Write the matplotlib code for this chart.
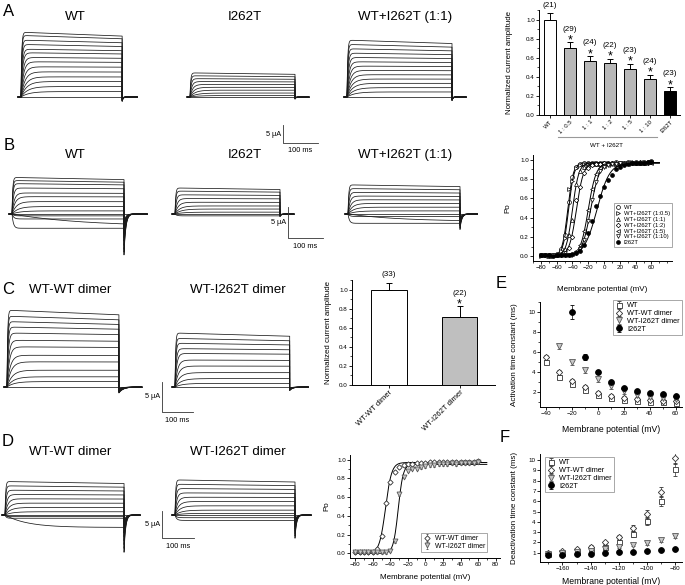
import numpy as np
import matplotlib
matplotlib.use("Agg")
import matplotlib.pyplot as plt
from matplotlib.ticker import MultipleLocator

plt.rcParams['font.family'] = ['Liberation Sans', 'DejaVu Sans']
plt.rcParams['axes.linewidth'] = 0.7
plt.rcParams['xtick.major.width'] = 0.6
plt.rcParams['ytick.major.width'] = 0.6
plt.rcParams['xtick.minor.width'] = 0.5
plt.rcParams['ytick.minor.width'] = 0.5
plt.rcParams['xtick.major.size'] = 2
plt.rcParams['ytick.major.size'] = 2
plt.rcParams['xtick.minor.size'] = 1.2
plt.rcParams['ytick.minor.size'] = 1.2
plt.rcParams['xtick.labelsize'] = 4.5
plt.rcParams['ytick.labelsize'] = 4.5
plt.rcParams['xtick.major.pad'] = 1
plt.rcParams['ytick.major.pad'] = 1

# ---------------- data ----------------
# A: normalized current amplitude, WT + I262T co-expression
ratio_labels = ['WT', '1 : 0.5', '1 : 1', '1 : 2', '1 : 5', '1 : 10', 'I262T']
ratio_amp = [1.0, 0.70, 0.565, 0.545, 0.485, 0.38, 0.25]
ratio_err = [0.07, 0.06, 0.05, 0.045, 0.05, 0.04, 0.04]
ratio_n = [21, 29, 24, 22, 23, 24, 23]
ratio_star = [False, True, True, True, True, True, True]
ratio_colors = ['white', '0.72', '0.72', '0.72', '0.72', '0.72', 'black']

# B: Po-V, points every 5 mV from -80 to 60
v_po = list(range(-80, 65, 5))
po_wt = [.01, .01, .01, .01, .02, .07, .22, .56, .82, .93, .96, .97, .97, .97, .97,
         .97, .97, .97, .97, .98, .97, .97, .98, .97, .98, .97, .98, .98, .99]
po_05 = [.00, .01, .01, .00, .01, .05, .19, .70, .78, .92, .95, .96, .96, .96, .97,
         .96, .97, .97, .96, .97, .97, .97, .97, .98, .97, .97, .98, .97, .98]
po_11 = [.01, .01, .00, .01, .01, .02, .07, .22, .38, .75, .88, .93, .95, .96, .96,
         .96, .97, .97, .97, .96, .97, .97, .97, .98, .97, .97, .97, .98, .98]
po_12 = [.01, .01, .01, .01, .01, .01, .03, .09, .20, .58, .72, .86, .92, .95, .96,
         .96, .97, .96, .97, .97, .97, .96, .97, .97, .97, .98, .97, .97, .98]
po_15 = [.01, .00, .01, .01, .01, .01, .01, .01, .02, .05, .12, .26, .48, .70, .85,
         .91, .94, .95, .96, .96, .97, .97, .96, .97, .97, .97, .97, .98, .97]
po_110 = [.01, .01, .00, .01, .01, .01, .01, .01, .01, .03, .07, .17, .36, .58, .77,
          .88, .93, .95, .96, .96, .97, .96, .97, .97, .97, .97, .97, .97, .98]
po_i262t = [.01, .01, .01, .00, .01, .01, .01, .01, .02, .03, .05, .12, .24, .36, .52,
            .62, .72, .79, .84, .90, .93, .95, .96, .97, .97, .97, .97, .98, .98]
# Boltzmann fits: (V1/2, slope)
fit_b = [(-46, 3.5), (-45, 3.5), (-40, 4.0), (-35, 4.5), (-20, 5.0), (-17, 5.5), (-9, 8.0)]
po_b_labels = ['WT', 'WT+I262T (1:0.5)', 'WT+I262T (1:1)', 'WT+I262T (1:2)',
               'WT+I262T (1:5)', 'WT+I262T (1:10)', 'I262T']

# C: dimers
dimer_labels = ['WT-WT dimer', 'WT-I262T dimer']
dimer_amp = [1.0, 0.72]
dimer_err = [0.07, 0.11]
dimer_n = [33, 22]

# D: dimer Po-V
po_ww = [.01, .01, .01, .01, .01, .05, .18, .54, .76, .87, .92, .94, .95, .95, .96,
         .96, .96, .97, .97, .97, .97, .97, .97, .98, .97, .98, .98, .98, .99]
po_wi = [.01, .01, .01, .01, .01, .01, .01, .01, .03, .13, .63, .82, .88, .90, .90,
         .92, .93, .94, .94, .95, .95, .95, .96, .95, .96, .96, .96, .96, .97]
fit_d = [(-45.5, 3.5, 0.97), (-31, 2.8, 0.95)]

# E: activation time constants (ms)
v_act = [-40, -30, -20, -10, 0, 10, 20, 30, 40, 50, 60]
act_wt = [5.0, 3.5, 2.8, 2.2, 1.7, 1.4, 1.2, 1.1, 1.0, 1.0, 0.9]
act_ww = [5.5, 4.0, 3.1, 2.5, 1.9, 1.6, 1.4, 1.3, 1.2, 1.1, 1.1]
v_act_wi = [-30, -20, -10, 0, 10, 20, 30, 40, 50, 60]
act_wi = [6.6, 5.0, 4.2, 3.3, 2.6, 2.1, 1.7, 1.5, 1.4, 1.3]
v_act_mut = [-20, -10, 0, 10, 20, 30, 40, 50, 60]
act_mut = [10.0, 5.5, 4.0, 3.0, 2.4, 2.1, 1.9, 1.8, 1.6]
act_mut_err = [0.7, 0.3, 0.2, 0.15, 0.1, 0.1, 0.1, 0.1, 0.1]

# F: deactivation time constants (ms)
v_deact = [-170, -160, -150, -140, -130, -120, -110, -100, -90, -80]
deact_wt = [0.9, 1.0, 1.1, 1.3, 1.6, 2.0, 2.8, 4.1, 6.0, 9.1]
deact_ww = [1.0, 1.2, 1.4, 1.6, 2.0, 2.5, 3.4, 4.8, 6.9, 10.2]
deact_wi = [0.9, 1.0, 1.1, 1.2, 1.4, 1.6, 1.8, 1.9, 2.2, 2.6]
deact_mut = [0.8, 0.8, 0.9, 0.9, 1.0, 1.1, 1.1, 1.2, 1.3, 1.4]
deact_err = [0.1, 0.1, 0.1, 0.15, 0.15, 0.2, 0.3, 0.4, 0.5, 0.6]

# current traces: steady-state step amplitudes (uA)
wt_a_steps = [18.0, 17.1, 15.8, 14.6, 13.3, 12.3, 11.0, 9.8, 8.4, 7.0, 5.6, 4.3, 2.9, 1.5]
mut_a_steps = [6.7, 5.9, 5.1, 4.3, 3.5, 2.7, 1.9, 1.1, 0.4]
mix_a_steps = [15.8, 14.6, 13.4, 12.2, 11.0, 9.8, 8.6, 7.4, 6.2, 5.0, 3.8, 2.6, 1.4]
wt_b_steps = [5.9, 5.4, 4.9, 4.2, 3.4, 2.8, 2.0, 1.2, 0.5]
wt_b_inward = [(-2.3, 4), (-2.0, 200), (-0.8, 5), (-0.3, 5)]
mut_b_steps = [4.2, 3.7, 3.1, 2.5, 1.9, 1.3, 0.8, 0.3]
mix_b_steps = [4.7, 4.1, 3.5, 2.9, 2.3, 1.7, 1.1, 0.5]
mix_b_inward = [(-1.5, 4), (-1.2, 150), (-0.4, 5)]
ww_c_steps = [12.8, 11.8, 10.9, 10.0, 9.0, 7.8, 6.7, 5.3, 4.2, 2.8, 1.7, 0.9]
wi_c_steps = [9.0, 8.1, 7.3, 6.4, 5.6, 4.5, 3.5, 2.4, 1.4, 0.6]
ww_d_steps = [6.2, 5.4, 4.6, 3.8, 3.0, 2.2, 1.4, 0.6]
ww_d_inward = [(-2.3, 70), (-0.6, 4), (-0.3, 4)]
wi_d_steps = [6.5, 5.7, 4.9, 4.1, 3.3, 2.5, 1.7, 0.9, 0.3]
wi_d_inward = [(-1.0, 5), (-0.5, 5)]

# ---------------- figure ----------------
W, H = 685, 585
fig = plt.figure(figsize=(W / 100, H / 100), dpi=100)


def px_axes(x0, y0, x1, y1):
    return fig.add_axes([x0 / W, 1 - y1 / H, (x1 - x0) / W, (y1 - y0) / H])


def ftext(x, y, s, **kw):
    kw.setdefault('ha', 'center')
    kw.setdefault('va', 'center')
    fig.text(x / W, 1 - y / H, s, **kw)


def trace_panel(x0, base, ppms, ppu, pulse, tail_len, steps, inward=(),
                tail_amp=0.0, tail_tau=3.0, tau_fast=2.0, tau_slow=25.0, inact=0.06):
    total = pulse + tail_len
    lead = 3
    ax = px_axes(x0 - lead - 2, base - 95, x0 + total * ppms + 4, base + 55)
    ax.set_xlim(-(lead + 2) / ppms, total + 4 / ppms)
    ax.set_ylim(-55 / ppu, 95 / ppu)
    ax.axis('off')
    t_on = np.linspace(0, pulse, 500)
    t_off = np.linspace(pulse, total, 300)
    amax = max(steps)
    kw = dict(color='0.1', lw=0.55)
    pre_t = [-lead / ppms, 0]
    for a in steps:
        f = a / amax
        tau = tau_fast + tau_slow * (1 - f) ** 2
        y_on = a * (1 - np.exp(-t_on / tau)) * (1 - inact * f * f * t_on / pulse)
        d = tail_amp * (0.2 + 0.8 * f)
        y_off = -d * np.exp(-(t_off - pulse) / tail_tau)
        ax.plot(np.r_[pre_t, t_on, t_off], np.r_[0, 0, y_on, y_off], **kw)
    for a, tau in inward:
        y_on = a * (1 - np.exp(-t_on / tau))
        y_off = (y_on[-1] - 0.15 * tail_amp) * np.exp(-(t_off - pulse) / tail_tau)
        ax.plot(np.r_[pre_t, t_on, t_off], np.r_[0, 0, y_on, y_off], **kw)
    ax.plot([-lead / ppms, total], [0, 0], **kw)
    return ax


def scale_bar(x, y_bottom, ppms, ppu):
    h = 5 * ppu
    w = 100 * ppms
    fig.add_artist(plt.Line2D([x / W, x / W, (x + w) / W],
                              [1 - (y_bottom - h) / H, 1 - y_bottom / H, 1 - y_bottom / H],
                              color='0.2', lw=0.6))
    ftext(x - 2, y_bottom - h / 2, '5 \u03bcA', ha='right', fontsize=5.3)
    ftext(x + w / 2, y_bottom + 8, '100 ms', fontsize=5.3)


def style_axes(ax):
    ax.spines['top'].set_visible(False)
    ax.spines['right'].set_visible(False)
    ax.tick_params(which='both', direction='out')


def legend_box(ax, **kw):
    leg = ax.legend(frameon=True, fancybox=False, edgecolor='0.5', borderaxespad=0, **kw)
    leg.get_frame().set_linewidth(0.6)
    return leg


title_kw = dict(fontsize=9.6)
letter_kw = dict(fontsize=12)

# ---- row A traces ----
ftext(9, 12, 'A', **letter_kw)
ftext(75, 17, 'WT', **title_kw)
ftext(245, 17, 'I262T', **title_kw)
ftext(405, 17, 'WT+I262T (1:1)', **title_kw)
trace_panel(21, 97, 0.35, 3.6, 289, 43, wt_a_steps, tail_amp=1.2, tail_tau=3)
trace_panel(190, 97, 0.35, 3.6, 300, 40, mut_a_steps, tail_amp=0.6, tail_tau=3)
trace_panel(347, 97, 0.35, 3.6, 300, 40, mix_a_steps, tail_amp=1.0, tail_tau=3)
scale_bar(283, 143, 0.35, 3.6)

# ---- row B traces ----
ftext(9, 146, 'B', **letter_kw)
ftext(75, 155, 'WT', **title_kw)
ftext(245, 155, 'I262T', **title_kw)
ftext(405, 155, 'WT+I262T (1:1)', **title_kw)
trace_panel(12, 214, 0.35, 6.2, 320, 66, wt_b_steps, wt_b_inward, tail_amp=6.6, tail_tau=5)
trace_panel(175, 214, 0.35, 6.2, 300, 40, mut_b_steps, [(-0.3, 5)], tail_amp=0.4, tail_tau=4)
trace_panel(348, 214, 0.35, 6.2, 320, 50, mix_b_steps, mix_b_inward, tail_amp=2.5, tail_tau=5)
scale_bar(288, 238, 0.35, 6.2)

# ---- row C traces ----
ftext(8, 289, 'C', **letter_kw)
ftext(70, 290, 'WT-WT dimer', **title_kw)
ftext(238, 290, 'WT-I262T dimer', **title_kw)
trace_panel(7, 387, 0.31, 6.0, 361, 74, ww_c_steps, tail_amp=1.0, tail_tau=14)
trace_panel(175, 387, 0.31, 6.0, 370, 60, wi_c_steps, tail_amp=0.6, tail_tau=10)
scale_bar(162, 412, 0.31, 6.0)

# ---- row D traces ----
ftext(8, 441, 'D', **letter_kw)
ftext(70, 452, 'WT-WT dimer', **title_kw)
ftext(238, 452, 'WT-I262T dimer', **title_kw)
trace_panel(5, 515, 0.32, 5.4, 372, 50, ww_d_steps, ww_d_inward, tail_amp=6.9, tail_tau=5)
trace_panel(175, 515, 0.32, 5.4, 375, 50, wi_d_steps, wi_d_inward, tail_amp=4.3, tail_tau=5)
scale_bar(162, 538, 0.32, 5.4)

# ---- A: bar chart ----
axA = px_axes(539, 10, 680, 115)
style_axes(axA)
xa = np.arange(len(ratio_labels))
axA.bar(xa, ratio_amp, width=0.62, color=ratio_colors, edgecolor='black', lw=0.7)
axA.errorbar(xa, ratio_amp, yerr=[np.zeros(len(xa)), ratio_err], fmt='none',
             ecolor='black', elinewidth=0.7, capsize=2, capthick=0.7)
for xi, v, e, n, s in zip(xa, ratio_amp, ratio_err, ratio_n, ratio_star):
    top = v + e
    if s:
        axA.text(xi, top - 0.01, '*', ha='center', va='baseline', fontsize=9, clip_on=False)
        axA.text(xi, top + 0.14, '(%d)' % n, ha='center', va='center', fontsize=5.8, clip_on=False)
    else:
        axA.text(xi, top + 0.08, '(%d)' % n, ha='center', va='center', fontsize=5.8, clip_on=False)
axA.set_xlim(-0.55, 6.5)
axA.set_ylim(0, 1.1)
axA.yaxis.set_major_locator(MultipleLocator(0.2))
axA.yaxis.set_minor_locator(MultipleLocator(0.1))
axA.yaxis.set_major_formatter('{x:.1f}')
axA.set_xticks(xa)
axA.set_xticklabels(ratio_labels, rotation=45, ha='right', rotation_mode='anchor', fontsize=4.3)
axA.set_ylabel('Normalized current amplitude', fontsize=5.7)
axA.yaxis.set_label_coords(-26 / 141, 0.5)
axA.plot([0.4, 5.35], [-0.21, -0.21], color='0.6', lw=0.8,
         transform=axA.get_xaxis_transform(), clip_on=False)
axA.text(2.85, -0.295, 'WT + I262T', ha='center', va='center', fontsize=4.5,
         transform=axA.get_xaxis_transform())

# ---- B: Po-V ----
axB = px_axes(533, 155, 672, 261)
style_axes(axB)
markers_b = [('o', 'white'), ('>', 'white'), ('^', 'white'), ('D', 'white'),
             ('<', 'white'), ('v', 'white'), ('o', 'black')]
series_b = [po_wt, po_05, po_11, po_12, po_15, po_110, po_i262t]
vfit = np.linspace(-80, 70, 300)
for (mk, fc), po, (vh, k), lab in zip(markers_b, series_b, fit_b, po_b_labels):
    axB.plot(vfit, 0.97 / (1 + np.exp((vh - vfit) / k)), color='black', lw=0.7)
    axB.plot(v_po, po, ls='none', marker=mk, ms=2.8 if mk != 'D' else 2.3,
             mfc=fc, mec='black', mew=0.5, label=lab)
axB.set_xlim(-90, 86)
axB.set_ylim(-0.05, 1.05)
axB.xaxis.set_minor_locator(MultipleLocator(10))
axB.yaxis.set_major_locator(MultipleLocator(0.2))
axB.yaxis.set_minor_locator(MultipleLocator(0.1))
axB.yaxis.set_major_formatter('{x:.1f}')
axB.set_xticks(range(-80, 61, 20))
axB.set_xlabel('Membrane potential (mV)', fontsize=5.8)
axB.xaxis.set_label_coords(0.5, -25 / 106)
axB.set_ylabel('Po', fontsize=5.8)
axB.yaxis.set_label_coords(-22 / 139, 0.5)
legend_box(axB, loc='lower right', bbox_to_anchor=(1.0, 0.13), fontsize=4.2,
           handlelength=0.9, borderpad=0.35, labelspacing=0.12, handletextpad=0.5)

# ---- C: dimer bars ----
axC = px_axes(352, 280, 495, 385)
style_axes(axC)
xc = np.arange(len(dimer_labels))
axC.bar(xc, dimer_amp, width=0.5, color=['white', '0.75'], edgecolor='black', lw=0.7)
axC.errorbar(xc, dimer_amp, yerr=[np.zeros(2), dimer_err], fmt='none',
             ecolor='black', elinewidth=0.7, capsize=2.5, capthick=0.7)
top0 = dimer_amp[0] + dimer_err[0]
top1 = dimer_amp[1] + dimer_err[1]
axC.text(0, top0 + 0.09, '(%d)' % dimer_n[0], ha='center', va='center', fontsize=5.8, clip_on=False)
axC.text(1, top1 - 0.01, '*', ha='center', va='baseline', fontsize=9)
axC.text(1, top1 + 0.13, '(%d)' % dimer_n[1], ha='center', va='center', fontsize=5.8)
axC.set_xlim(-0.52, 1.5)
axC.set_ylim(0, 1.105)
axC.yaxis.set_major_locator(MultipleLocator(0.2))
axC.yaxis.set_minor_locator(MultipleLocator(0.1))
axC.yaxis.set_major_formatter('{x:.1f}')
axC.set_xticks(xc)
axC.set_xticklabels(dimer_labels, rotation=45, ha='right', rotation_mode='anchor', fontsize=5.5)
axC.set_ylabel('Normalized current amplitude', fontsize=5.7)
axC.yaxis.set_label_coords(-20 / 143, 0.5)

# ---- E: activation tau ----
ftext(501, 283, 'E', **letter_kw)
axE = px_axes(540, 302, 682, 407)
style_axes(axE)
sq = dict(ls='none', marker='s', ms=3.6, mfc='white', mec='0.2', mew=0.6)
di = dict(ls='none', marker='D', ms=3.2, mfc='white', mec='0.2', mew=0.6)
tr = dict(ls='none', marker='v', ms=4.2, mfc='0.78', mec='0.35', mew=0.6)
ci = dict(ls='none', marker='o', ms=4.2, mfc='black', mec='black', mew=0.6)
axE.errorbar(v_act, act_wt, yerr=0.2, ecolor='0.2', elinewidth=0.5, capsize=1.2, label='WT', **sq)
axE.errorbar(v_act, act_ww, yerr=0.25, ecolor='0.2', elinewidth=0.5, capsize=1.2, label='WT-WT dimer', **di)
axE.errorbar(v_act_wi, act_wi, yerr=0.25, ecolor='0.3', elinewidth=0.5, capsize=1.2, label='WT-I262T dimer', **tr)
axE.errorbar(v_act_mut, act_mut, yerr=act_mut_err, ecolor='black', elinewidth=0.5, capsize=1.2, label='I262T', **ci)
axE.set_xlim(-45, 65)
axE.set_ylim(0.5, 11)
axE.xaxis.set_major_locator(MultipleLocator(20))
axE.xaxis.set_minor_locator(MultipleLocator(10))
axE.yaxis.set_major_locator(MultipleLocator(2))
axE.yaxis.set_minor_locator(MultipleLocator(1))
axE.set_xlabel('Membrane potential (mV)', fontsize=6.2)
axE.xaxis.set_label_coords(0.5, -18 / 105)
axE.set_ylabel('Activation time constant (ms)', fontsize=5.8)
axE.yaxis.set_label_coords(-22 / 142, 0.5)
legend_box(axE, loc='upper right', bbox_to_anchor=(1.0, 1.02), fontsize=5.3,
           handlelength=1.0, borderpad=0.3, labelspacing=0.1, handletextpad=0.6)

# ---- D: dimer Po-V ----
axD = px_axes(350, 455, 500, 558)
style_axes(axD)
for po, (vh, k, m), mk, lab in zip([po_ww, po_wi], fit_d, [di, tr], ['WT-WT dimer', 'WT-I262T dimer']):
    axD.plot(vfit, m / (1 + np.exp((vh - vfit) / k)), color='black', lw=0.7)
    st = dict(mk)
    st.update(ms=st['ms'] * 0.85)
    axD.errorbar(v_po, po, yerr=0.015, ecolor='0.3', elinewidth=0.4, capsize=0.8, label=lab, **st)
axD.set_xlim(-86, 85)
axD.set_ylim(-0.05, 1.05)
axD.xaxis.set_major_locator(MultipleLocator(20))
axD.xaxis.set_minor_locator(MultipleLocator(10))
axD.yaxis.set_major_locator(MultipleLocator(0.2))
axD.yaxis.set_minor_locator(MultipleLocator(0.1))
axD.yaxis.set_major_formatter('{x:.1f}')
axD.set_xlabel('Membrane potential (mV)', fontsize=5.8)
axD.xaxis.set_label_coords(0.5, -16 / 103)
axD.set_ylabel('Po', fontsize=5.8)
axD.yaxis.set_label_coords(-20 / 150, 0.5)
legend_box(axD, loc='lower right', bbox_to_anchor=(137 / 150, 6 / 103), fontsize=5.0,
           handlelength=1.0, borderpad=0.3, labelspacing=0.1, handletextpad=0.6)

# ---- F: deactivation tau ----
ftext(505, 437, 'F', **letter_kw)
axF = px_axes(540, 454, 682, 562)
style_axes(axF)
axF.errorbar(v_deact, deact_wt, yerr=deact_err, ecolor='0.2', elinewidth=0.5, capsize=1.2, label='WT', **sq)
axF.errorbar(v_deact, deact_ww, yerr=deact_err, ecolor='0.2', elinewidth=0.5, capsize=1.2, label='WT-WT dimer', **di)
axF.errorbar(v_deact, deact_wi, yerr=0.15, ecolor='0.3', elinewidth=0.5, capsize=1.2, label='WT-I262T dimer', **tr)
axF.errorbar(v_deact, deact_mut, yerr=0.1, ecolor='black', elinewidth=0.5, capsize=1.2, label='I262T', **ci)
axF.set_xlim(-176, -75)
axF.set_ylim(0.1, 10.6)
axF.xaxis.set_major_locator(MultipleLocator(20))
axF.xaxis.set_minor_locator(MultipleLocator(10))
axF.yaxis.set_major_locator(MultipleLocator(1))
axF.set_xlabel('Membrane potential (mV)', fontsize=6.2)
axF.xaxis.set_label_coords(0.5, -15 / 108)
axF.set_ylabel('Deactivation time constant (ms)', fontsize=5.8)
axF.yaxis.set_label_coords(-22 / 142, 0.5)
legend_box(axF, loc='upper left', bbox_to_anchor=(5 / 142, 1 - 3 / 108), fontsize=5.3,
           handlelength=1.0, borderpad=0.3, labelspacing=0.1, handletextpad=0.6)

fig.savefig('out.png', dpi=100)
